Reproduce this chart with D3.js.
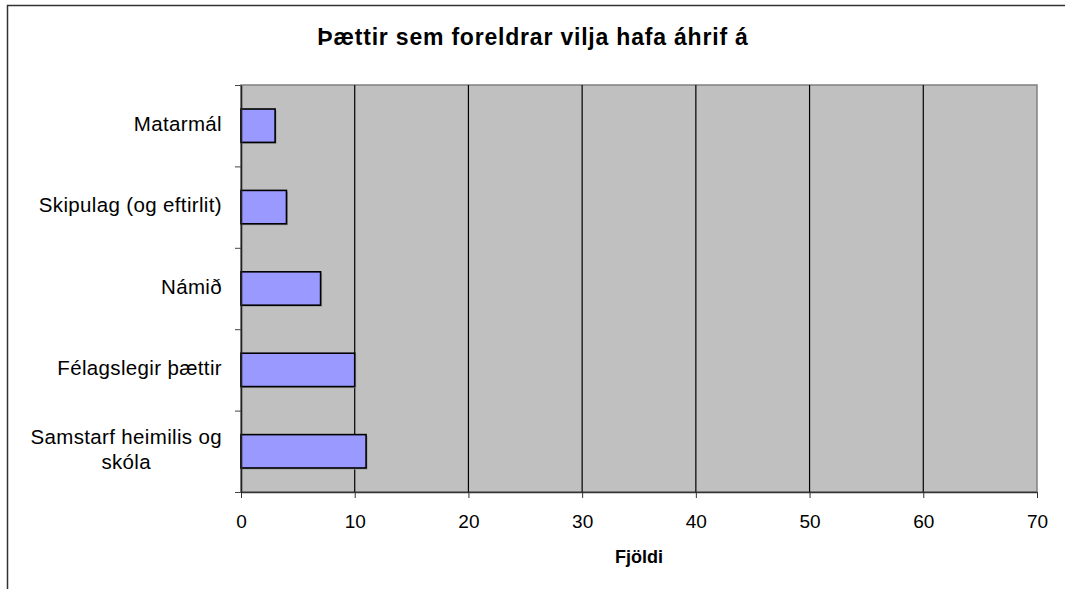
<!DOCTYPE html>
<html>
<head>
<meta charset="utf-8">
<script src="https://cdn.jsdelivr.net/npm/d3@7"></script>
<style>
  body { margin: 0; background: #fff; }
  svg { display: block; font-family: "Liberation Sans", Arial, sans-serif; }
</style>
</head>
<body>
<div id="chart"></div>
<script>
// data
const categories = ["Matarmál", "Skipulag (og eftirlit)", "Námið", "Félagslegir þættir", "Samstarf heimilis og skóla"];
const counts = [3, 4, 7, 10, 11];
const xTicks = [0, 10, 20, 30, 40, 50, 60, 70];
const title = "Þættir sem foreldrar vilja hafa áhrif á";
const xTitle = "Fjöldi";

const W = 1065, H = 589;
const plot = {left: 241, right: 1037, top: 85, bottom: 492};

const svg = d3.select("#chart").append("svg")
  .attr("width", W).attr("height", H);

// outer chart frame (only top and left visible)
svg.append("path")
  .attr("d", "M7.5," + H + " V5.5 H" + W)
  .attr("fill", "none").attr("stroke", "#333").attr("stroke-width", 1.5);

const x = d3.scaleLinear().domain([0, 70]).range([plot.left, plot.right]);
const y = d3.scaleBand().domain(categories).range([plot.top, plot.bottom])
  .paddingInner(0.59).paddingOuter(0.295);
const yEdges = d3.scaleLinear().domain([0, categories.length]).range([plot.top, plot.bottom]);

// plot background
svg.append("rect")
  .attr("x", plot.left).attr("y", plot.top)
  .attr("width", plot.right - plot.left).attr("height", plot.bottom - plot.top)
  .attr("fill", "#c0c0c0").attr("stroke", "#808080").attr("stroke-width", 1.5);

// gridlines
svg.append("g").selectAll("line")
  .data(xTicks.slice(1, -1))
  .join("line")
  .attr("x1", d => x(d)).attr("x2", d => x(d))
  .attr("y1", plot.top).attr("y2", plot.bottom)
  .attr("stroke", "#000").attr("stroke-width", 1.2);

// bars
const bars = svg.append("g");
bars.selectAll("rect.shadow")
  .data(categories)
  .join("rect").attr("class", "shadow")
  .attr("x", x(0) + 1.5).attr("y", d => y(d) + 1.5)
  .attr("width", (d, i) => x(counts[i]) - x(0)).attr("height", y.bandwidth())
  .attr("fill", "#999");
bars.selectAll("rect.bar")
  .data(categories)
  .join("rect").attr("class", "bar")
  .attr("x", x(0)).attr("y", d => y(d))
  .attr("width", (d, i) => x(counts[i]) - x(0)).attr("height", y.bandwidth())
  .attr("fill", "#9999ff").attr("stroke", "#000").attr("stroke-width", 1.6);

// axes
const xAxis = svg.append("g")
  .attr("transform", "translate(0," + plot.bottom + ")")
  .call(d3.axisBottom(x).tickValues(xTicks).tickSize(6).tickSizeOuter(0).tickPadding(17));
xAxis.select(".domain").attr("stroke", "#333").attr("stroke-width", 1.6);
xAxis.selectAll(".tick line").attr("stroke", "#333");
xAxis.selectAll("text").attr("font-size", 19).attr("fill", "#000")
  .attr("font-family", "Liberation Sans, Arial, sans-serif");

const yAxis = svg.append("g")
  .attr("transform", "translate(" + plot.left + ",0)")
  .call(d3.axisLeft(yEdges).ticks(categories.length).tickSize(6).tickSizeOuter(0).tickFormat(""));
yAxis.select(".domain").attr("stroke", "#222").attr("stroke-width", 1.6);
yAxis.selectAll(".tick line").attr("stroke", "#444");

// category labels, wrapped, block right aligned with centred lines
const labelRight = 222, maxW = 205, lineH = 25, labelSize = 20.5, labelSpacing = 0.35;
categories.forEach(function(c) {
  const g = svg.append("g");
  const words = c.split(" ");
  let lines = [], cur = "";
  const probe = g.append("text").attr("font-size", labelSize).attr("letter-spacing", labelSpacing);
  words.forEach(function(w) {
    const test = cur ? cur + " " + w : w;
    probe.text(test);
    if (probe.node().getComputedTextLength() > maxW && cur) {
      lines.push(cur); cur = w;
    } else cur = test;
  });
  lines.push(cur);
  let blockW = 0;
  lines.forEach(function(l) {
    probe.text(l);
    blockW = Math.max(blockW, probe.node().getComputedTextLength());
  });
  probe.remove();
  const cy = y(c) + y.bandwidth() / 2;
  const first = cy - (lines.length - 1) * lineH / 2 + 5;
  g.selectAll("text").data(lines).join("text")
    .attr("x", labelRight - blockW / 2)
    .attr("y", (d, i) => first + i * lineH)
    .attr("text-anchor", "middle")
    .attr("font-size", labelSize).attr("letter-spacing", labelSpacing).attr("fill", "#000")
    .text(d => d);
});

// titles
svg.append("text")
  .attr("x", 533).attr("y", 45)
  .attr("text-anchor", "middle")
  .attr("font-size", 23).attr("font-weight", "bold")
  .attr("letter-spacing", 0.8)
  .text(title);

svg.append("text")
  .attr("x", (plot.left + plot.right) / 2).attr("y", 563)
  .attr("text-anchor", "middle")
  .attr("font-size", 18).attr("font-weight", "bold")
  .text(xTitle);
</script>
</body>
</html>
